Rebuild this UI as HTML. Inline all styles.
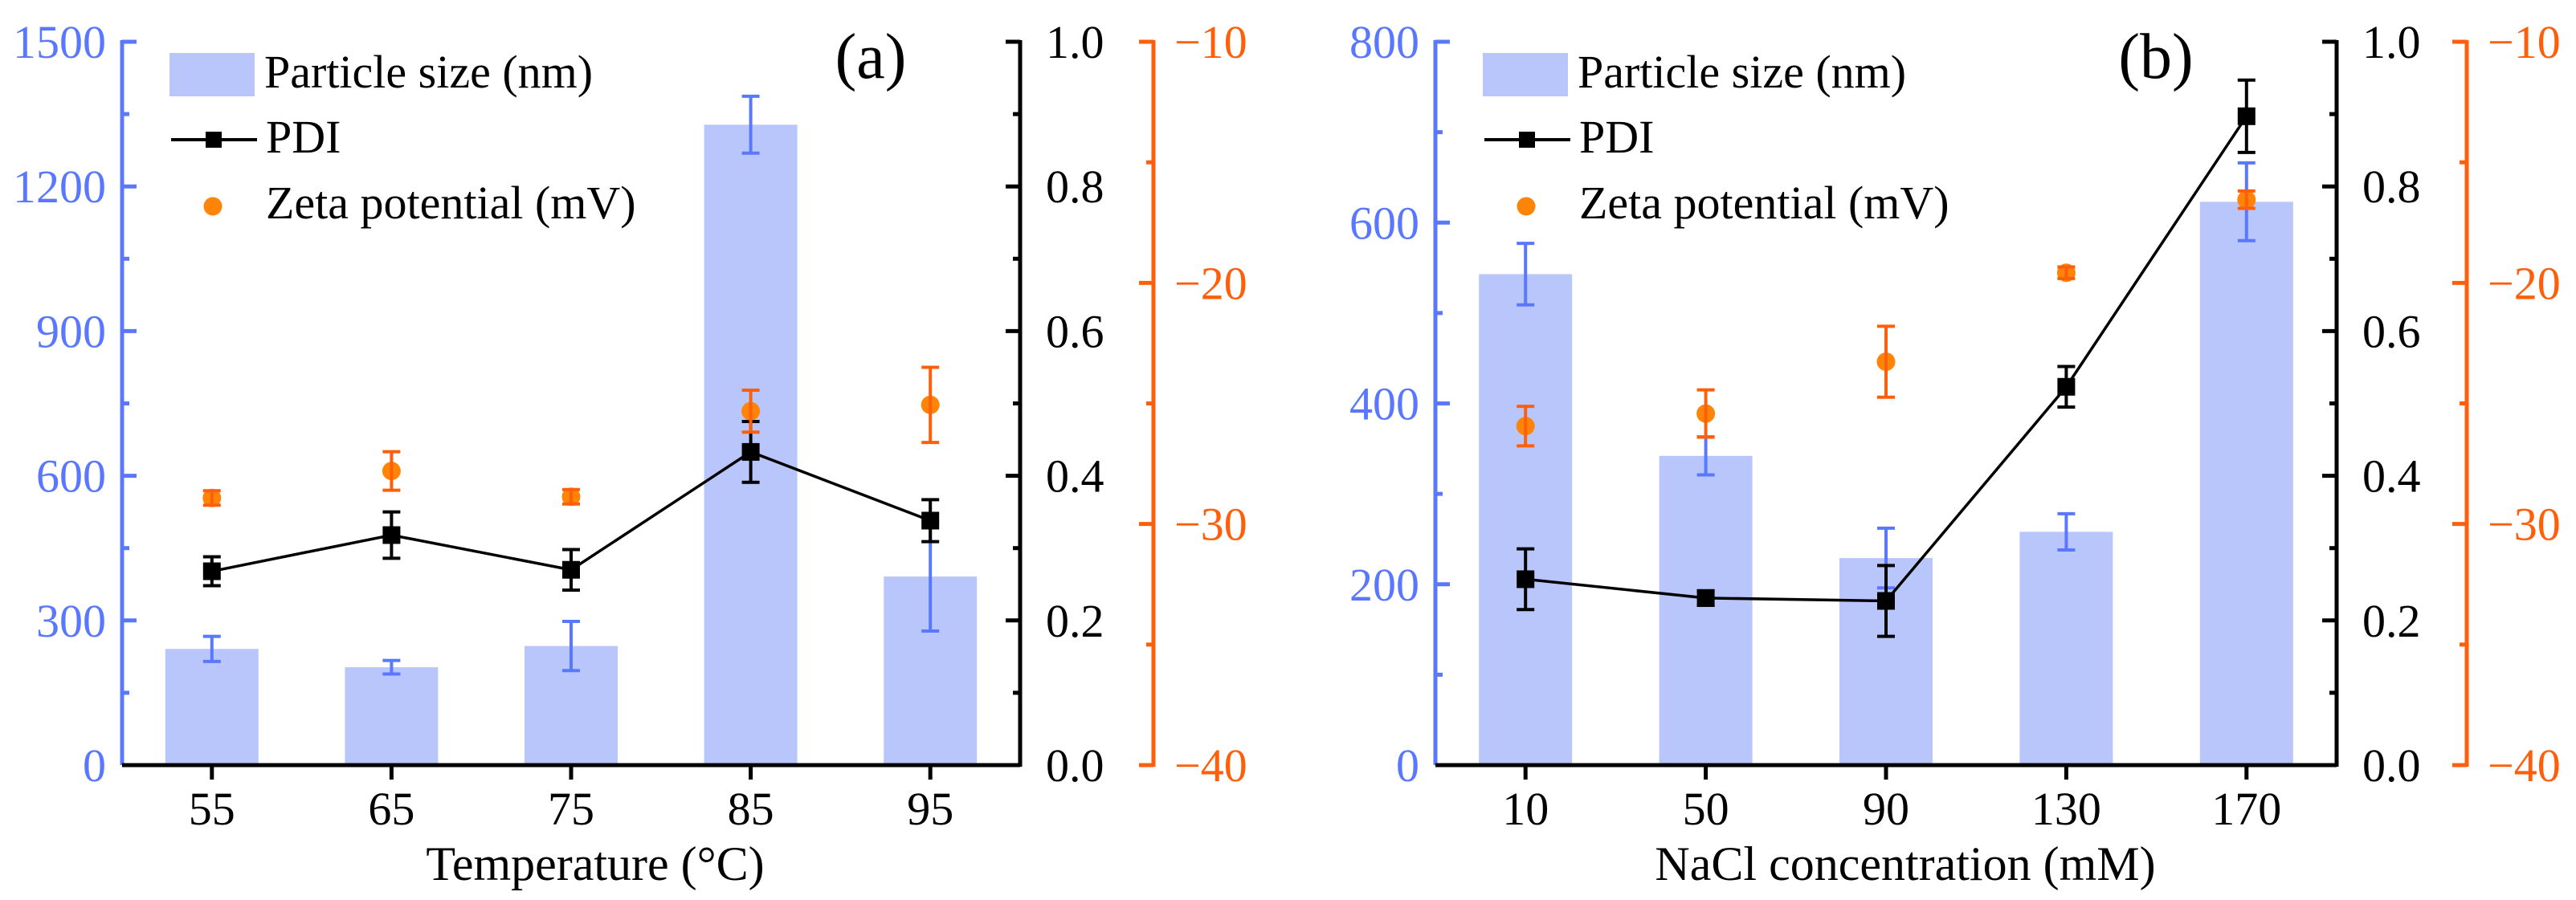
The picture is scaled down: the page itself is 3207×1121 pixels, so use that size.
<!DOCTYPE html>
<html><head><meta charset="utf-8"><style>
html,body{margin:0;padding:0;background:#fff;}
svg{display:block;}
svg text{font-family:"Liberation Serif","Noto Serif CJK SC","DejaVu Serif",serif;}
</style></head><body>
<svg id="chart" width="3207" height="1121" viewBox="0 0 3207 1121" xmlns="http://www.w3.org/2000/svg"></svg>
<script>
// Panel (a) data
const catsA = [55, 65, 75, 85, 95];
const sizeA = [241, 203, 247, 1328, 391];
const sizeErrA = [26, 14, 51, 59, 113];
const pdiA = [0.268, 0.318, 0.270, 0.433, 0.338];
const pdiErrA = [0.020, 0.032, 0.028, 0.042, 0.029];
const zetaA = [-28.92, -27.8, -28.87, -25.32, -25.06];
const zetaErrA = [0.3, 0.8, 0.3, 0.87, 1.56];
const sizeTicksA = [0, 300, 600, 900, 1200, 1500];
// Panel (b) data
const catsB = [10, 50, 90, 130, 170];
const sizeB = [543, 342, 229, 258, 623];
const sizeErrB = [34, 21, 33, 20, 43];
const pdiB = [0.257, 0.231, 0.227, 0.523, 0.897];
const pdiErrB = [0.042, 0.010, 0.049, 0.028, 0.050];
const zetaB = [-25.94, -25.42, -23.27, -19.58, -16.55];
const zetaErrB = [0.82, 0.98, 1.47, 0.24, 0.36];
const sizeTicksB = [0, 200, 400, 600, 800];
const pdiTicks = ["0.0", "0.2", "0.4", "0.6", "0.8", "1.0"];
const zetaTicks = [-40, -30, -20, -10];

const NS = "http://www.w3.org/2000/svg";
const svg = document.getElementById('chart');
const BLUE = "#5a78ff", BAR = "#b8c6fc", ORANGE_AX = "#ff5f0a", DOT = "#ff8407";
function mk(tag, attrs, parent, name) {
  const e = document.createElementNS(NS, tag);
  for (const k in attrs) e.setAttribute(k, attrs[k]);
  
  
  (parent || svg).appendChild(e);
  return e;
}
function txt(s, x, y, size, fill, anchor, parent, name) {
  const t = mk('text', {x: x, y: y, 'font-size': size, fill: fill, 'text-anchor': anchor}, parent, name);
  t.textContent = s;
  return t;
}
function errbar(g, x, y1, y2, color, name) {
  mk('line', {x1: x, x2: x, y1: y1, y2: y2, stroke: color, 'stroke-width': 4}, g, name);
  mk('line', {x1: x - 11, x2: x + 11, y1: y1, y2: y1, stroke: color, 'stroke-width': 4}, g, name + '-cap');
  mk('line', {x1: x - 11, x2: x + 11, y1: y2, y2: y2, stroke: color, 'stroke-width': 4}, g, name + '-cap');
}

function panel(o) {
  const g = mk('g', {}, svg, o.id);
  const X0 = o.x0, X1 = o.x1, Y0 = 953, Y1 = 52, OX = o.ox;
  const xs = v => X0 + (v - o.xmin) / (o.xmax - o.xmin) * (X1 - X0);
  const ys = v => Y0 - v / o.smax * (Y0 - Y1);
  const yp = v => Y0 - v * (Y0 - Y1);
  const yz = v => Y0 - (v + 40) / 30 * (Y0 - Y1);
  const bw = 116;
  o.cats.forEach((c, i) => {
    mk('rect', {x: xs(c) - bw / 2, y: ys(o.size[i]), width: bw, height: Y0 - ys(o.size[i]), fill: BAR}, g, 'size-bar-' + c);
  });
  o.cats.forEach((c, i) => {
    errbar(g, xs(c), ys(o.size[i] + o.sizeErr[i]), ys(o.size[i] - o.sizeErr[i]), BLUE, 'size-error-' + c);
  });
  const pts = o.cats.map((c, i) => xs(c) + ',' + yp(o.pdi[i])).join(' ');
  mk('polyline', {points: pts, fill: 'none', stroke: '#000', 'stroke-width': 3.5}, g, 'pdi-line');
  o.cats.forEach((c, i) => {
    errbar(g, xs(c), yp(o.pdi[i] + o.pdiErr[i]), yp(o.pdi[i] - o.pdiErr[i]), '#000', 'pdi-error-' + c);
    mk('rect', {x: xs(c) - 11, y: yp(o.pdi[i]) - 11, width: 22, height: 22, fill: '#000'}, g, 'pdi-marker-' + c);
  });
  o.cats.forEach((c, i) => {
    mk('circle', {cx: xs(c), cy: yz(o.zeta[i]), r: 11.5, fill: DOT}, g, 'zeta-point-' + c);
    errbar(g, xs(c), yz(o.zeta[i] + o.zetaErr[i]), yz(o.zeta[i] - o.zetaErr[i]), ORANGE_AX, 'zeta-error-' + c);
  });
  mk('line', {x1: X0, x2: X0, y1: Y1 - 2, y2: Y0, stroke: BLUE, 'stroke-width': 5}, g, 'size-axis');
  o.sTicks.forEach((v, i) => {
    mk('line', {x1: X0, x2: X0 + 18, y1: ys(v), y2: ys(v), stroke: BLUE, 'stroke-width': 5}, g, 'size-tick');
    txt(String(v), X0 - 20, ys(v) + 20, 58, BLUE, 'end', g, 'size-tick-label');
    if (i < o.sTicks.length - 1) {
      const m = (v + o.sTicks[i + 1]) / 2;
      mk('line', {x1: X0, x2: X0 + 9, y1: ys(m), y2: ys(m), stroke: BLUE, 'stroke-width': 5}, g, 'size-minor-tick');
    }
  });
  mk('line', {x1: X0, x2: X1, y1: Y0, y2: Y0, stroke: '#000', 'stroke-width': 5}, g, 'x-axis');
  o.cats.forEach(c => {
    mk('line', {x1: xs(c), x2: xs(c), y1: Y0, y2: Y0 + 18, stroke: '#000', 'stroke-width': 5}, g, 'x-tick');
    txt(String(c), xs(c), 1027, 58, '#000', 'middle', g, 'x-tick-label');
  });
  txt(o.xlabel, o.xlabX, 1096, 60, '#000', 'middle', g, 'x-axis-title');
  mk('line', {x1: X1, x2: X1, y1: Y1 - 2, y2: Y0 + 2, stroke: '#000', 'stroke-width': 5}, g, 'pdi-axis');
  pdiTicks.forEach((s, i) => {
    const v = parseFloat(s);
    mk('line', {x1: X1 - 18, x2: X1, y1: yp(v), y2: yp(v), stroke: '#000', 'stroke-width': 5}, g, 'pdi-tick');
    txt(s, X1 + 32, yp(v) + 20, 58, '#000', 'start', g, 'pdi-tick-label');
    if (i < pdiTicks.length - 1) {
      mk('line', {x1: X1 - 9, x2: X1, y1: yp(v + 0.1), y2: yp(v + 0.1), stroke: '#000', 'stroke-width': 5}, g, 'pdi-minor-tick');
    }
  });
  mk('line', {x1: OX, x2: OX, y1: Y1 - 2, y2: Y0 + 2, stroke: ORANGE_AX, 'stroke-width': 5}, g, 'zeta-axis');
  zetaTicks.forEach((v, i) => {
    mk('line', {x1: OX - 18, x2: OX, y1: yz(v), y2: yz(v), stroke: ORANGE_AX, 'stroke-width': 5}, g, 'zeta-tick');
    txt('\u2212' + Math.abs(v), OX + 26, yz(v) + 20, 58, ORANGE_AX, 'start', g, 'zeta-tick-label');
    if (i < zetaTicks.length - 1) {
      mk('line', {x1: OX - 9, x2: OX, y1: yz(v + 5), y2: yz(v + 5), stroke: ORANGE_AX, 'stroke-width': 5}, g, 'zeta-minor-tick');
    }
  });
  const L = o.lx;
  const lg = mk('g', {}, g, 'legend');
  mk('rect', {x: L, y: 66, width: 106, height: 54, fill: BAR}, lg, 'legend-size-swatch');
  txt('Particle size (nm)', L + 118, 109, 58, '#000', 'start', lg, 'legend-size-label');
  mk('line', {x1: L + 2, x2: L + 109, y1: 174, y2: 174, stroke: '#000', 'stroke-width': 4}, lg, 'legend-pdi-line');
  mk('rect', {x: L + 45, y: 164, width: 20, height: 20, fill: '#000'}, lg, 'legend-pdi-marker');
  txt('PDI', L + 120, 190, 58, '#000', 'start', lg, 'legend-pdi-label');
  mk('circle', {cx: L + 54, cy: 257, r: 11.5, fill: DOT}, lg, 'legend-zeta-marker');
  txt('Zeta potential (mV)', L + 120, 272, 58, '#000', 'start', lg, 'legend-zeta-label');
  txt(o.tag, o.tagX, 97, 80, '#000', 'middle', g, 'panel-label');
}

panel({id: 'panel-a', x0: 152, x1: 1270, ox: 1436, xmin: 50, xmax: 100, smax: 1500,
  cats: catsA, size: sizeA, sizeErr: sizeErrA, pdi: pdiA, pdiErr: pdiErrA, zeta: zetaA, zetaErr: zetaErrA,
  sTicks: sizeTicksA, xlabel: 'Temperature (\u00B0C)', xlabX: 741, lx: 211, tag: '(a)', tagX: 1084});
panel({id: 'panel-b', x0: 1787, x1: 2909, ox: 3071, xmin: -10, xmax: 190, smax: 800,
  cats: catsB, size: sizeB, sizeErr: sizeErrB, pdi: pdiB, pdiErr: pdiErrB, zeta: zetaB, zetaErr: zetaErrB,
  sTicks: sizeTicksB, xlabel: 'NaCl concentration (mM)', xlabX: 2372, lx: 1846, tag: '(b)', tagX: 2684});
</script>
</body></html>
